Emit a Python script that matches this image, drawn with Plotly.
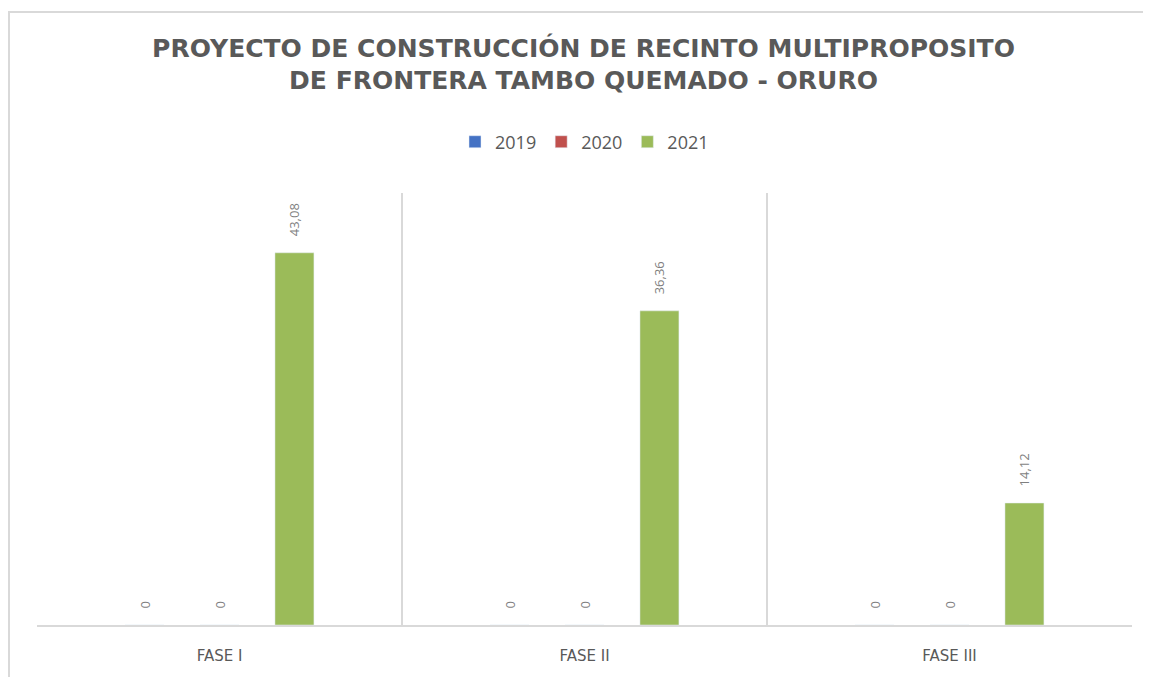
import plotly.graph_objects as go

categories = ["FASE I", "FASE II", "FASE III"]
years = ["2019", "2020", "2021"]
values_2019 = [0, 0, 0]
values_2020 = [0, 0, 0]
values_2021 = [43.08, 36.36, 14.12]
colors = ["#4472C4", "#C0504D", "#9BBB59"]

def fmt(v):
    return ("%g" % v).replace(".", ",") if v != 0 else "0"

PAD = "\u00a0\u00a0\u00a0\u00a0"

fig = go.Figure()
for name, vals, col in zip(years, [values_2019, values_2020, values_2021], colors):
    fig.add_trace(go.Bar(
        x=categories, y=vals, name=name, marker_color=col,
        text=[fmt(v) for v in vals], texttemplate=PAD + "%{text}",
        textposition="outside", textangle=-90, constraintext="none",
        textfont=dict(family="Open Sans", size=13, color="#7f7f7f"),
        cliponaxis=False,
    ))

fig.update_layout(
    width=1151, height=677,
    paper_bgcolor="white", plot_bgcolor="white",
    margin=dict(l=29, r=27, t=185, b=60),
    barmode="group", bargap=0.384, bargroupgap=0.48,
    title=dict(
        text="PROYECTO DE CONSTRUCCIÓN DE RECINTO MULTIPROPOSITO<br>DE FRONTERA TAMBO QUEMADO - ORURO",
        x=0.5, xanchor="center", y=0.928, yanchor="middle",
        font=dict(family="DejaVu Sans", size=25, color="#595959", weight="bold"),
    ),
    legend=dict(
        orientation="h", x=0.5, xanchor="center", y=1.118, yanchor="middle",
        font=dict(family="Open Sans", size=18, color="#595959"),
        itemwidth=30, traceorder="normal",
    ),
    showlegend=True,
)
fig.update_xaxes(
    type="category", tickson="boundaries", showgrid=True, gridcolor="#d9d9d9", gridwidth=1.5,
    showline=True, linecolor="#d9d9d9", linewidth=2, ticks="",
    tickfont=dict(family="DejaVu Sans", size=15, color="#595959"),
    ticklabelstandoff=16,
)
fig.update_yaxes(range=[0, 50], visible=False, showgrid=False, zeroline=False)

fig.add_shape(type="rect", xref="paper", yref="paper",
              x0=(1 - 29) / 1095, x1=1.05, y0=-0.3, y1=(617 - 4) / 432,
              line=dict(color="#d9d9d9", width=2), fillcolor="rgba(0,0,0,0)", layer="below")

fig.write_html("out.html")
